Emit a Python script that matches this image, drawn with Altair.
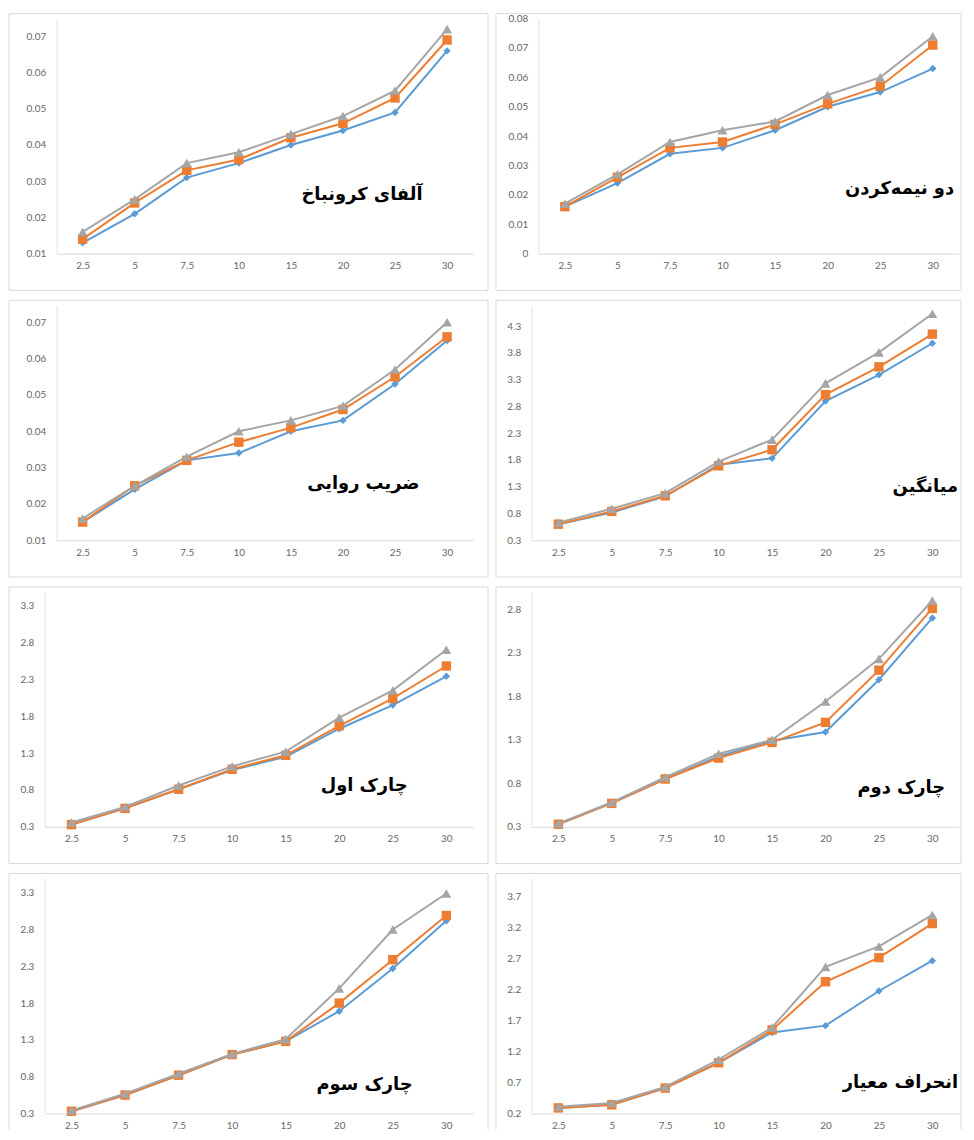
import altair as alt
import pandas as pd

x_labels = ["2.5", "5", "7.5", "10", "15", "20", "25", "30"]
series_names = ["s1", "s2", "s3"]
series_colors = ["#5B9BD5", "#ED7D31", "#A5A5A5"]
series_shapes = ["diamond", "square", "triangle-up"]
series_sizes = [56, 90, 100]

# Panel 1: آلفای کرونباخ
p1_blue = [0.013, 0.021, 0.031, 0.035, 0.040, 0.044, 0.049, 0.066]
p1_orange = [0.014, 0.024, 0.033, 0.036, 0.042, 0.046, 0.053, 0.069]
p1_gray = [0.016, 0.025, 0.035, 0.038, 0.043, 0.048, 0.055, 0.072]
p1_ticks = [0.01, 0.02, 0.03, 0.04, 0.05, 0.06, 0.07]

# Panel 2: دو نیمه‌کردن
p2_blue = [0.016, 0.024, 0.034, 0.036, 0.042, 0.050, 0.055, 0.063]
p2_orange = [0.016, 0.026, 0.036, 0.038, 0.044, 0.051, 0.057, 0.071]
p2_gray = [0.017, 0.027, 0.038, 0.042, 0.045, 0.054, 0.060, 0.074]
p2_ticks = [0, 0.01, 0.02, 0.03, 0.04, 0.05, 0.06, 0.07, 0.08]

# Panel 3: ضریب روایی
p3_blue = [0.015, 0.024, 0.032, 0.034, 0.040, 0.043, 0.053, 0.065]
p3_orange = [0.015, 0.025, 0.032, 0.037, 0.041, 0.046, 0.055, 0.066]
p3_gray = [0.016, 0.025, 0.033, 0.040, 0.043, 0.047, 0.057, 0.070]
p3_ticks = [0.01, 0.02, 0.03, 0.04, 0.05, 0.06, 0.07]

# Panel 4: میانگین
p4_blue = [0.60, 0.82, 1.12, 1.71, 1.83, 2.90, 3.39, 3.98]
p4_orange = [0.60, 0.84, 1.13, 1.69, 1.99, 3.02, 3.54, 4.15]
p4_gray = [0.63, 0.89, 1.18, 1.77, 2.18, 3.23, 3.81, 4.53]
p4_ticks = [0.3, 0.8, 1.3, 1.8, 2.3, 2.8, 3.3, 3.8, 4.3]

# Panel 5: چارک اول
p5_blue = [0.33, 0.55, 0.81, 1.07, 1.25, 1.63, 1.95, 2.34]
p5_orange = [0.33, 0.55, 0.81, 1.08, 1.27, 1.67, 2.04, 2.48]
p5_gray = [0.36, 0.57, 0.86, 1.12, 1.32, 1.78, 2.15, 2.70]
p5_ticks = [0.3, 0.8, 1.3, 1.8, 2.3, 2.8, 3.3]

# Panel 6: چارک دوم
p6_blue = [0.33, 0.58, 0.85, 1.11, 1.29, 1.39, 1.99, 2.70]
p6_orange = [0.33, 0.57, 0.85, 1.09, 1.27, 1.50, 2.10, 2.81]
p6_gray = [0.34, 0.58, 0.87, 1.14, 1.30, 1.74, 2.23, 2.90]
p6_ticks = [0.3, 0.8, 1.3, 1.8, 2.3, 2.8]

# Panel 7: چارک سوم
p7_blue = [0.33, 0.55, 0.82, 1.10, 1.28, 1.69, 2.27, 2.92]
p7_orange = [0.33, 0.55, 0.82, 1.10, 1.28, 1.80, 2.39, 2.99]
p7_gray = [0.34, 0.57, 0.84, 1.11, 1.31, 2.00, 2.80, 3.29]
p7_ticks = [0.3, 0.8, 1.3, 1.8, 2.3, 2.8, 3.3]

# Panel 8: انحراف معیار
p8_blue = [0.29, 0.34, 0.61, 1.02, 1.51, 1.62, 2.18, 2.67]
p8_orange = [0.29, 0.34, 0.61, 1.02, 1.55, 2.33, 2.72, 3.27]
p8_gray = [0.31, 0.37, 0.63, 1.07, 1.59, 2.57, 2.90, 3.41]
p8_ticks = [0.2, 0.7, 1.2, 1.7, 2.2, 2.7, 3.2, 3.7]

H = 237
T = 5
LABEL_COLOR = "#666666"
LABEL_FONT = "Lato"
BORDER = "#d9d9d9"


def panel(title, blue, orange, gray, ydomain, ticks, label_expr,
          L, W, R, B, shift, tx, ty, closed=True):
    rows = []
    for s, vals in zip(series_names, [blue, orange, gray]):
        for xl, v in zip(x_labels, vals):
            rows.append({"x": xl, "v": v, "s": s})
    df = pd.DataFrame(rows)

    xscale = alt.Scale(type="point", padding=0.5)
    if shift:
        xscale = alt.Scale(type="point", padding=0.5, range=[-shift, W])
    xenc = alt.X(
        "x:O",
        sort=x_labels,
        scale=xscale,
        axis=alt.Axis(
            title=None, labelAngle=0, ticks=False, tickSize=0, labelPadding=7,
            domainColor="#d9d9d9", labelColor=LABEL_COLOR, labelFont=LABEL_FONT,
            labelFontSize=10, grid=False,
        ),
    )
    yenc = alt.Y(
        "v:Q",
        scale=alt.Scale(domain=ydomain, nice=False, zero=False),
        axis=alt.Axis(
            title=None, values=ticks, labelExpr=label_expr, ticks=False, tickSize=0,
            labelPadding=11, domainColor="#e3e3e3", labelColor=LABEL_COLOR,
            labelFont=LABEL_FONT, labelFontSize=10, grid=False, offset=shift,
        ),
    )

    one = alt.Chart(pd.DataFrame({"b": [0]}))
    if closed:
        frame = [one.mark_rect(fill="white", fillOpacity=0, stroke=BORDER, strokeWidth=1).encode(
            x=alt.value(-L), x2=alt.value(W + R), y=alt.value(-T), y2=alt.value(H + B))]
    else:
        frame = [
            one.mark_rule(color=BORDER, strokeWidth=1).encode(
                x=alt.value(-L), y=alt.value(-T), y2=alt.value(H + B)),
            one.mark_rule(color=BORDER, strokeWidth=1).encode(
                x=alt.value(W + R), y=alt.value(-T), y2=alt.value(H + B)),
            one.mark_rule(color=BORDER, strokeWidth=1).encode(
                x=alt.value(-L), x2=alt.value(W + R), y=alt.value(-T)),
        ]

    layers = list(frame)
    for s, color, shape, size in zip(series_names, series_colors, series_shapes, series_sizes):
        sub = alt.Chart(df).transform_filter(alt.datum.s == s)
        layers.append(sub.mark_line(color=color, strokeWidth=2).encode(x=xenc, y=yenc))
        layers.append(
            sub.mark_point(filled=True, opacity=1, color=color, shape=shape, size=size, strokeWidth=0)
            .encode(x=xenc, y=yenc)
        )

    text = alt.Chart(pd.DataFrame({"t": [title]})).mark_text(
        font="DejaVu Sans", fontWeight="bold", fontSize=18, color="black",
        align="right", baseline="middle",
    ).encode(x=alt.value(tx), y=alt.value(ty), text="t:N")
    layers.append(text)

    return alt.layer(*layers).properties(width=W, height=H)


fmt2 = "format(datum.value, '.2f')"
fmt2z = "datum.value == 0 ? '0' : format(datum.value, '.2f')"
fmt1 = "format(datum.value, '.1f')"

# left column: plot origin 48px right of the frame; right column: 43px
c1 = panel("آلفای کرونباخ", p1_blue, p1_orange, p1_gray, [0.01, 0.0749], p1_ticks, fmt2,
           48, 420, 15, 37, 0, 369, 178)
c2 = panel("دو نیمه‌کردن", p2_blue, p2_orange, p2_gray, [0, 0.08], p2_ticks, fmt2z,
           43, 424, 2, 37, 0, 419, 172)
c3 = panel("ضریب روایی", p3_blue, p3_orange, p3_gray, [0.01, 0.0747], p3_ticks, fmt2,
           48, 420, 15, 37, 0, 366, 180)
c4 = panel("میانگین", p4_blue, p4_orange, p4_gray, [0.3, 4.69], p4_ticks, fmt1,
           43, 424, 2, 37, 7, 423, 183)
c5 = panel("چارک اول", p5_blue, p5_orange, p5_gray, [0.3, 3.485], p5_ticks, fmt1,
           48, 420, 15, 37, 12, 354, 196)
c6 = panel("چارک دوم", p6_blue, p6_orange, p6_gray, [0.3, 3.0], p6_ticks, fmt1,
           43, 424, 2, 37, 7, 410, 198)
c7 = panel("چارک سوم", p7_blue, p7_orange, p7_gray, [0.3, 3.494], p7_ticks, fmt1,
           48, 420, 15, 16, 12, 359, 208, closed=False)
c8 = panel("انحراف معیار", p8_blue, p8_orange, p8_gray, [0.2, 4.0], p8_ticks, fmt1,
           43, 424, 2, 16, 7, 423, 206, closed=False)

chart = alt.concat(
    c1, c2, c3, c4, c5, c6, c7, c8,
    columns=2,
    spacing={"row": 8, "column": 6},
    align="none",
    bounds="full",
).properties(
    padding=0,
    background="white",
).configure_view(stroke=None)

chart.save("out.html", embed_options={"renderer": "svg", "actions": False})
